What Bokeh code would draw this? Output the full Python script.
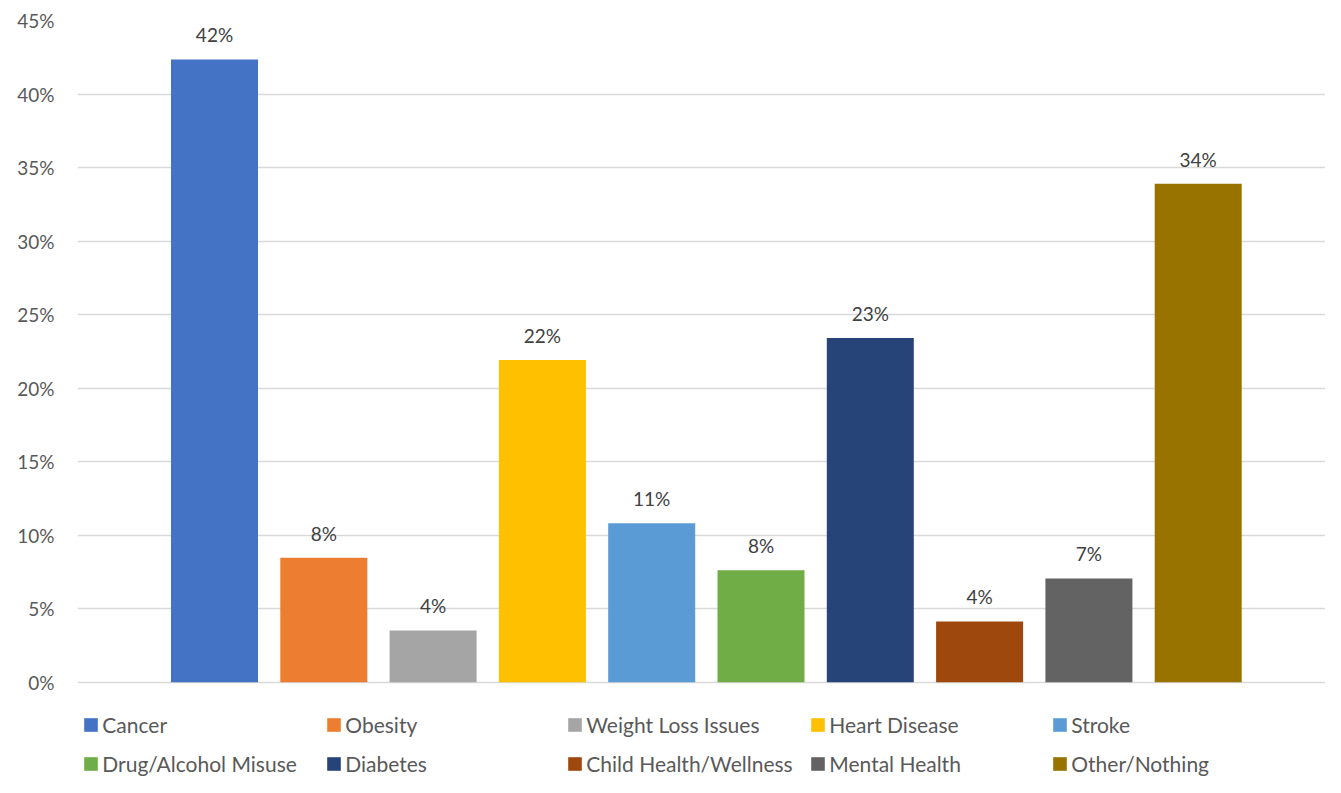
from bokeh.plotting import figure
from bokeh.models import (ColumnDataSource, Range1d, FixedTicker, NumeralTickFormatter,
                          LabelSet, Legend, LegendItem)
from bokeh.core.properties import value
from bokeh.embed import file_html
from bokeh.resources import INLINE

categories = ["Cancer", "Obesity", "Weight Loss Issues", "Heart Disease", "Stroke",
              "Drug/Alcohol Misuse", "Diabetes", "Child Health/Wellness", "Mental Health",
              "Other/Nothing"]
values = [0.4235, 0.0847, 0.0352, 0.2191, 0.1081, 0.0761, 0.2341, 0.0413, 0.0706, 0.3390]
colors = ["#4472C4", "#ED7D31", "#A5A5A5", "#FFC000", "#5B9BD5",
          "#70AD47", "#264478", "#9E480E", "#636363", "#997300"]
y_ticks = [0, 0.05, 0.10, 0.15, 0.20, 0.25, 0.30, 0.35, 0.40, 0.45]

FONT = "Lato"
FS = "19px"
LEG_FS = "21px"

W, H = 1325, 777
TOP = 20            # frame top (px)
ZERO_Y = 681.7      # pixel row of 0%
px_per_unit = (ZERO_Y - TOP) / 0.45
y_start = 0.45 - (H - TOP) / px_per_unit

LEFT = 77
pitch = 109.3
first_center = 214
x_start = -(first_center - LEFT) / pitch
x_end = x_start + (W - LEFT) / pitch

src = ColumnDataSource(dict(
    x=list(range(len(categories))),
    v=values,
    c=colors,
    name=categories,
    lbl=[f"{v:.0%}" for v in values],
))

p = figure(width=W, height=H, output_backend="svg", toolbar_location=None,
           x_range=Range1d(x_start, x_end), y_range=Range1d(y_start, 0.45),
           x_axis_location=None, y_axis_location="left",
           min_border_left=LEFT, min_border_right=0, min_border_top=TOP, min_border_bottom=0)
p.outline_line_color = None
p.background_fill_color = "white"
p.border_fill_color = "white"

r = p.vbar(x="x", top="v", bottom=0, width=0.796, fill_color="c", line_color=None, source=src)

p.xgrid.visible = False
p.ygrid.grid_line_color = "#d9d9d9"
p.ygrid.grid_line_width = 1.5

ax = p.yaxis[0]
ax.ticker = FixedTicker(ticks=y_ticks)
ax.formatter = NumeralTickFormatter(format="0%")
ax.axis_line_color = None
ax.major_tick_line_color = None
ax.minor_tick_line_color = None
ax.major_tick_out = 0
ax.major_tick_in = 0
ax.major_label_standoff = 23
ax.major_label_text_font = FONT
ax.major_label_text_font_size = FS
ax.major_label_text_color = "#595959"

labels = LabelSet(x="x", y="v", text="lbl", source=src, text_align="center",
                  text_baseline="alphabetic", y_offset=17,
                  text_font=value(FONT), text_font_size=value(FS), text_color="#404040")
p.add_layout(labels)

# legend: 5 columns x 2 rows, drawn inside the (extended) frame
col_left = [84, 327, 568, 811, 1053]   # x of legend squares
n_cols = 5
for ci in range(n_cols):
    items = []
    for ri in range(2):
        idx = ri * n_cols + ci
        items.append(LegendItem(label=categories[idx], renderers=[r], index=idx))
    leg = Legend(items=items, orientation="vertical",
                 location=(col_left[ci] - 1.7 - LEFT, 1),
                 glyph_width=17, glyph_height=17, label_standoff=3,
                 label_height=24, spacing=14, padding=0, margin=0,
                 border_line_color=None, background_fill_alpha=0,
                 label_text_font=FONT, label_text_font_size=LEG_FS,
                 label_text_color="#595959")
    p.add_layout(leg, "center")

open("out.html", "w").write(file_html(p, INLINE))
